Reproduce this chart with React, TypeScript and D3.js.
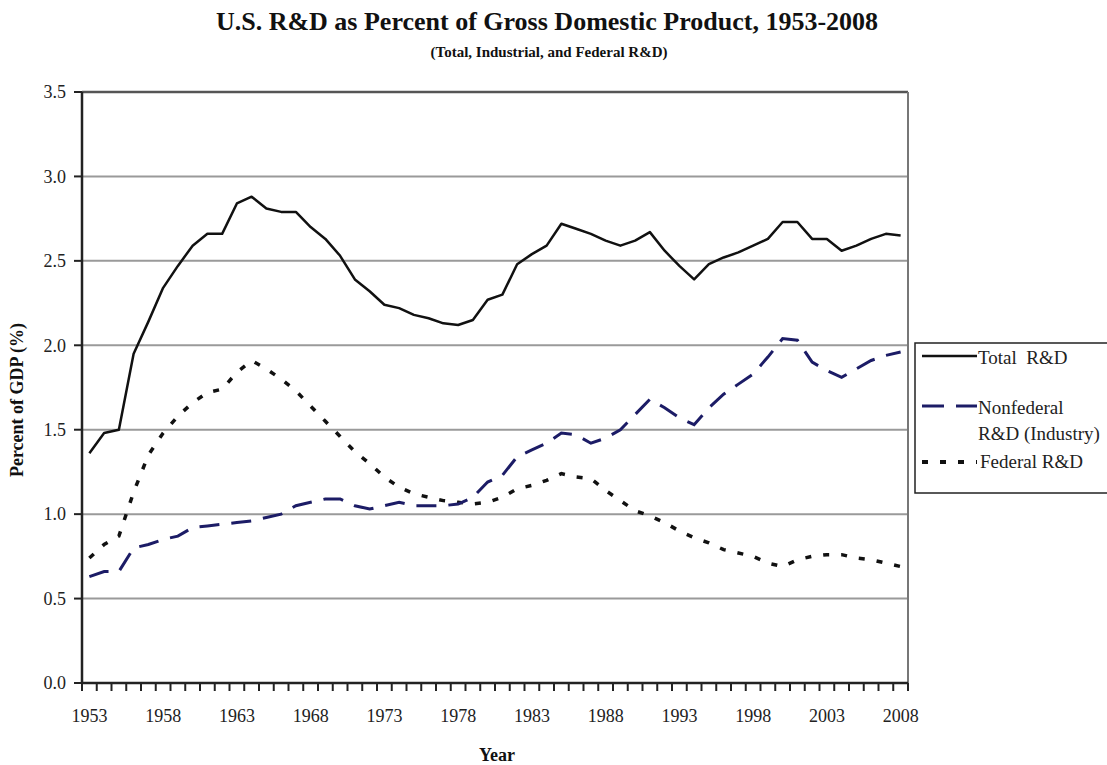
import React from "react";
import * as d3 from "d3";

const years: number[] = d3.range(1953, 2009);
const tickLabelYears: number[] = [1953, 1958, 1963, 1968, 1973, 1978, 1983, 1988, 1993, 1998, 2003, 2008];
const yTicks: number[] = [0, 0.5, 1.0, 1.5, 2.0, 2.5, 3.0, 3.5];

const totalRD: number[] = [
  1.36, 1.48, 1.50, 1.95, 2.14, 2.34, 2.47, 2.59, 2.66, 2.66,
  2.84, 2.88, 2.81, 2.79, 2.79, 2.70, 2.63, 2.53, 2.39, 2.32,
  2.24, 2.22, 2.18, 2.16, 2.13, 2.12, 2.15, 2.27, 2.30, 2.48,
  2.54, 2.59, 2.72, 2.69, 2.66, 2.62, 2.59, 2.62, 2.67, 2.56,
  2.47, 2.39, 2.48, 2.52, 2.55, 2.59, 2.63, 2.73, 2.73, 2.63,
  2.63, 2.56, 2.59, 2.63, 2.66, 2.65,
];
const nonfederalRD: number[] = [
  0.63, 0.66, 0.66, 0.80, 0.82, 0.85, 0.87, 0.92, 0.93, 0.94,
  0.95, 0.96, 0.98, 1.00, 1.05, 1.07, 1.09, 1.09, 1.05, 1.03,
  1.05, 1.07, 1.05, 1.05, 1.05, 1.06, 1.10, 1.19, 1.23, 1.34,
  1.38, 1.42, 1.48, 1.47, 1.42, 1.45, 1.50, 1.59, 1.68, 1.63,
  1.57, 1.53, 1.63, 1.71, 1.77, 1.83, 1.93, 2.04, 2.03, 1.90,
  1.85, 1.81, 1.86, 1.91, 1.94, 1.96,
];
const federalRD: number[] = [
  0.74, 0.82, 0.87, 1.13, 1.35, 1.48, 1.58, 1.66, 1.72, 1.74,
  1.84, 1.91, 1.86, 1.80, 1.73, 1.64, 1.55, 1.46, 1.37, 1.30,
  1.22, 1.16, 1.12, 1.10, 1.08, 1.07, 1.06, 1.07, 1.10, 1.15,
  1.17, 1.20, 1.24, 1.22, 1.21, 1.14, 1.08, 1.02, 0.99, 0.95,
  0.90, 0.86, 0.83, 0.79, 0.77, 0.75, 0.71, 0.69, 0.73, 0.75,
  0.76, 0.76, 0.74, 0.73, 0.71, 0.69,
];

const FONT = "'Liberation Serif', 'Times New Roman', serif";
const W = 1107;
const H = 765;
const L = 82, R = 908, T = 92, B = 683;

export default function App() {
  const x = d3.scalePoint<number>().domain(years).range([L, R]).padding(0.5);
  const step = x.step();
  const y = d3.scaleLinear().domain([0, 3.5]).range([B, T]);

  const line = (vals: number[]) =>
    d3.line<number>()
      .x((_, i) => x(years[i]) as number)
      .y((v) => y(v))(vals) as string;

  const tickXs = d3.range(years.length + 1).map((i) => L + i * step);

  return (
    <svg width={W} height={H} style={{ position: "absolute", left: 0, top: 0, background: "#fff" }} fontFamily={FONT}>
      <rect x={0} y={0} width={W} height={H} fill="#fff" />
      {/* Title */}
      <text x={547} y={30} textAnchor="middle" fontSize={26} fontWeight="bold" fill="#111">
        U.S. R&amp;D as Percent of Gross Domestic Product, 1953-2008
      </text>
      <text x={549} y={57} textAnchor="middle" fontSize={15} fontWeight="bold" fill="#111">
        (Total, Industrial, and Federal R&amp;D)
      </text>

      {/* gridlines */}
      {yTicks.filter((t) => t > 0 && t < 3.5).map((t) => (
        <line key={"g" + t} x1={L} x2={R} y1={y(t)} y2={y(t)} stroke="#9a9a9a" strokeWidth={2} />
      ))}
      {/* plot border top/right */}
      <line x1={L} x2={R} y1={y(3.5)} y2={y(3.5)} stroke="#555" strokeWidth={2.5} />
      <line x1={R} x2={R} y1={T} y2={B} stroke="#777" strokeWidth={2} />

      {/* series */}
      <path d={line(federalRD)} fill="none" stroke="#111" strokeWidth={3.5} strokeDasharray="6,12" />
      <path d={line(nonfederalRD)} fill="none" stroke="#1c1c66" strokeWidth={3} strokeDasharray="20,12" />
      <path d={line(totalRD)} fill="none" stroke="#111" strokeWidth={2.5} strokeLinejoin="round" />

      {/* axes */}
      <line x1={L} x2={L} y1={T} y2={B} stroke="#222" strokeWidth={2.5} />
      <line x1={L - 1} x2={R} y1={B} y2={B} stroke="#222" strokeWidth={2.5} />
      {yTicks.map((t) => (
        <g key={"yt" + t}>
          <line x1={L - 8} x2={L} y1={y(t)} y2={y(t)} stroke="#222" strokeWidth={2} />
          <text x={66} y={y(t)} dy="0.35em" textAnchor="end" fontSize={18} fill="#222">
            {t.toFixed(1)}
          </text>
        </g>
      ))}
      {tickXs.map((tx, i) => (
        <line key={"xt" + i} x1={tx} x2={tx} y1={B} y2={B + 8} stroke="#222" strokeWidth={2} />
      ))}
      {tickLabelYears.map((yr) => (
        <text key={"xl" + yr} x={x(yr) as number} y={722} textAnchor="middle" fontSize={18} fill="#222">
          {yr}
        </text>
      ))}

      {/* axis titles */}
      <text x={497} y={761} textAnchor="middle" fontSize={18} fontWeight="bold" fill="#111">Year</text>
      <text transform="translate(23,400) rotate(-90)" textAnchor="middle" fontSize={18} fontWeight="bold" fill="#111">
        Percent of GDP (%)
      </text>

      {/* legend */}
      <rect x={915} y={343} width={200} height={150} fill="#fff" stroke="#222" strokeWidth={1.5} />
      <line x1={922} x2={977} y1={356} y2={356} stroke="#111" strokeWidth={2.5} />
      <text x={978} y={364} fontSize={19} fill="#222" style={{ whiteSpace: "pre" }}>{"Total  R&D"}</text>
      <line x1={922} x2={977} y1={406} y2={406} stroke="#1c1c66" strokeWidth={3} strokeDasharray="22,12" />
      <text x={978} y={414} fontSize={19} fill="#222">Nonfederal</text>
      <text x={978} y={440} fontSize={19} fill="#222">R&amp;D (Industry)</text>
      <line x1={922} x2={977} y1={462} y2={462} stroke="#111" strokeWidth={4} strokeDasharray="6,12" />
      <text x={980} y={468} fontSize={19} fill="#222">Federal R&amp;D</text>
    </svg>
  );
}
